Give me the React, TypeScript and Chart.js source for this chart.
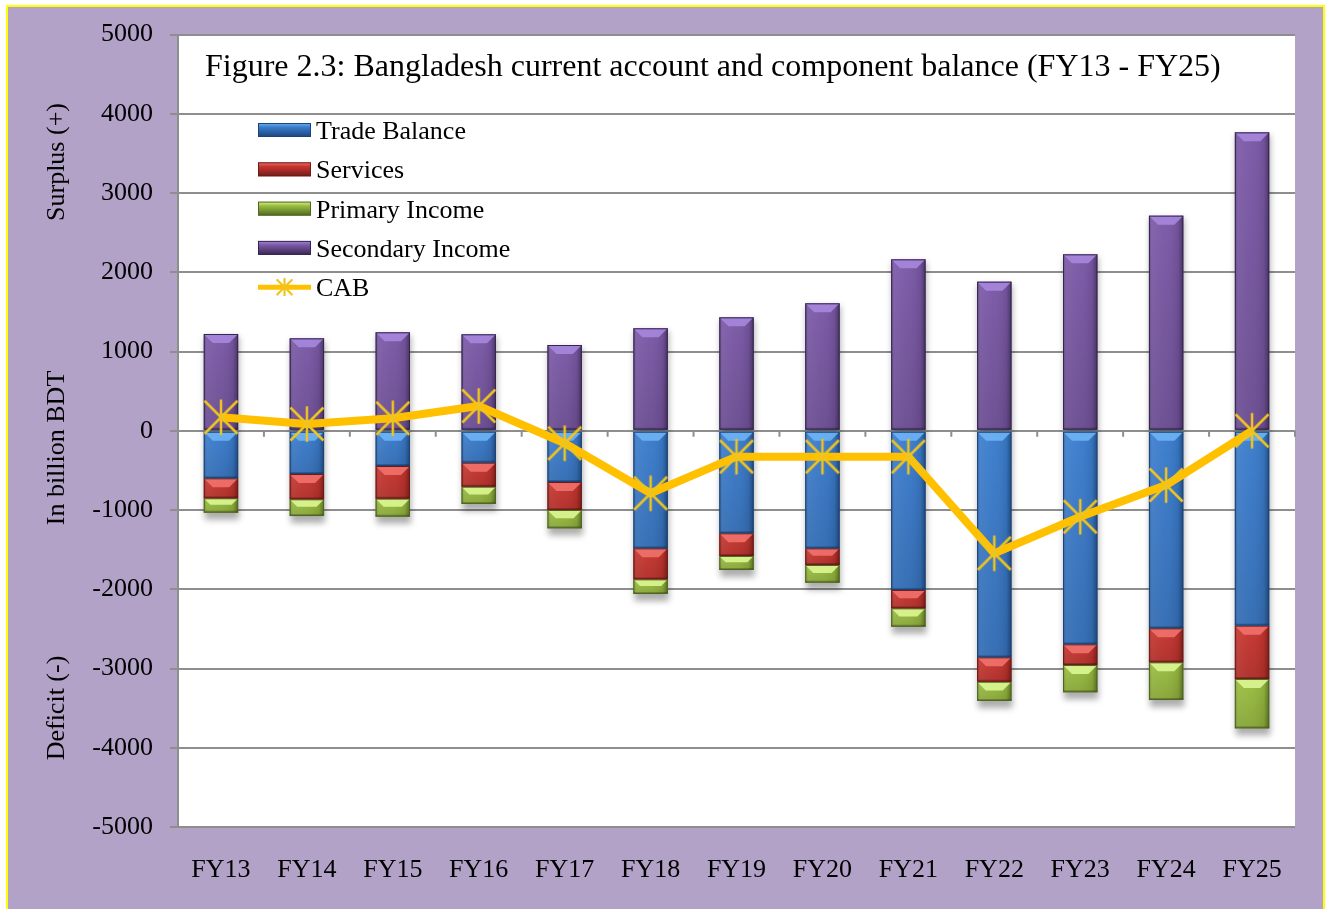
import React, { useEffect, useRef } from "react";
import { Chart, registerables } from "chart.js";

Chart.register(...registerables);

// ---------- data ----------
const categories = ["FY13", "FY14", "FY15", "FY16", "FY17", "FY18", "FY19", "FY20", "FY21", "FY22", "FY23", "FY24", "FY25"];
const tradeBalance = [-600, -546, -445, -403, -647, -1484, -1294, -1484, -2009, -2859, -2695, -2493, -2459];
const servicesBalance = [-252, -319, -412, -303, -353, -391, -286, -210, -232, -308, -261, -429, -673];
const primaryIncome = [-182, -211, -227, -218, -231, -185, -177, -223, -232, -243, -344, -475, -623];
const secondaryIncome = [1221, 1166, 1242, 1217, 1082, 1293, 1431, 1608, 2163, 1881, 2226, 2714, 3765];
const cabValues = [170, 85, 157, 312, -158, -789, -327, -327, -327, -1547, -1085, -685, 0];

const seriesNames = ["Trade Balance", "Services", "Primary Income", "Secondary Income", "CAB"];
const titleText = "Figure 2.3: Bangladesh current account and component balance (FY13 - FY25)";
const axisTitles = ["Surplus (+)", "In billion BDT", "Deficit (-)"];

const Y_MIN = -5000;
const Y_MAX = 5000;
const Y_STEP = 1000;

// ---------- style ----------
const FONT = '"Liberation Serif", "Times New Roman", Times, serif';
const OUTER_BG = "#B2A2C7";
const GRID = "#8E8E8E";
const LINE_COLOR = "#FFC000";
const STAR_COLOR = "#F0C420";

type Pal = { base: string; light: string; dark: string };
const palettes: Pal[] = [
  { base: "#3A7CCD", light: "#6DB3F4", dark: "#1C4479" },
  { base: "#C8352F", light: "#F2716C", dark: "#6E1B18" },
  { base: "#9ABD40", light: "#DAF792", dark: "#4E6622" },
  { base: "#7A58A6", light: "#A687DD", dark: "#36264F" },
];

function makeStar(size: number, lw: number): HTMLCanvasElement {
  const c = document.createElement("canvas");
  c.width = size;
  c.height = size;
  const g = c.getContext("2d")!;
  const m = lw;
  g.strokeStyle = STAR_COLOR;
  g.lineWidth = lw;
  g.lineCap = "butt";
  g.beginPath();
  g.moveTo(size / 2, m / 2);
  g.lineTo(size / 2, size - m / 2);
  g.moveTo(m, m);
  g.lineTo(size - m, size - m);
  g.moveTo(size - m, m);
  g.lineTo(m, size - m);
  g.stroke();
  return c;
}

function barRect(el: any) {
  const p = el.getProps(["x", "y", "base", "width"], true);
  const left = p.x - p.width / 2;
  const top = Math.min(p.y, p.base);
  const bottom = Math.max(p.y, p.base);
  return { left, right: left + p.width, top, bottom, width: p.width, x: p.x };
}

const backgroundPlugin = {
  id: "bgPlugin",
  beforeDraw(chart: any) {
    const { ctx, chartArea: a } = chart;
    ctx.save();
    ctx.fillStyle = OUTER_BG;
    ctx.fillRect(0, 0, chart.width, chart.height);
    ctx.fillStyle = "#FFFFFF";
    ctx.fillRect(a.left, a.top, a.right - a.left, a.bottom - a.top);
    ctx.restore();
  },
};

const zeroTicksPlugin = {
  id: "zeroTicks",
  beforeDatasetsDraw(chart: any) {
    const { ctx, chartArea: a } = chart;
    const xs = chart.scales.x;
    const ys = chart.scales.y;
    const y0 = ys.getPixelForValue(0);
    const n = categories.length;
    ctx.save();
    ctx.strokeStyle = GRID;
    ctx.lineWidth = 2;
    ctx.beginPath();
    for (let i = 0; i <= n; i++) {
      let px;
      if (i === 0) px = a.left;
      else if (i === n) px = a.right;
      else px = (xs.getPixelForValue(i - 1) + xs.getPixelForValue(i)) / 2;
      ctx.moveTo(px, y0);
      ctx.lineTo(px, y0 + 6);
    }
    ctx.stroke();
    ctx.restore();
  },
};

const shadowPlugin = {
  id: "barShadow",
  beforeDatasetsDraw(chart: any) {
    const metas = chart.getSortedVisibleDatasetMetas().filter((m: any) => m.type === "bar");
    const ctx = chart.ctx;
    const n = categories.length;
    ctx.save();
    ctx.filter = "blur(3px)";
    ctx.fillStyle = "rgba(0,0,0,0.32)";
    for (let i = 0; i < n; i++) {
      let t = Infinity;
      let b = -Infinity;
      let l = 0;
      let w = 0;
      metas.forEach((m: any) => {
        const r = barRect(m.data[i]);
        t = Math.min(t, r.top);
        b = Math.max(b, r.bottom);
        l = r.left;
        w = r.width;
      });
      ctx.fillRect(l + 1, t + 3, w, b - t + 4);
    }
    ctx.restore();
  },
};

const bevelPlugin = {
  id: "bevel",
  afterDatasetDraw(chart: any, args: any) {
    const meta = args.meta;
    if (meta.type !== "bar") return;
    const pal: Pal = palettes[args.index];
    const ctx = chart.ctx;
    meta.data.forEach((el: any) => {
      const r = barRect(el);
      const h = r.bottom - r.top;
      if (h < 1) return;
      ctx.save();
      const g = ctx.createLinearGradient(r.left, 0, r.right, 0);
      g.addColorStop(0, "rgba(0,0,0,0.22)");
      g.addColorStop(0.1, "rgba(255,255,255,0.08)");
      g.addColorStop(0.45, "rgba(255,255,255,0.03)");
      g.addColorStop(0.85, "rgba(0,0,0,0.08)");
      g.addColorStop(1, "rgba(0,0,0,0.38)");
      ctx.fillStyle = g;
      ctx.fillRect(r.left, r.top, r.width, h);
      const gv = ctx.createLinearGradient(0, r.top, 0, r.bottom);
      gv.addColorStop(0, "rgba(0,0,0,0)");
      gv.addColorStop(1, "rgba(0,0,0,0.12)");
      ctx.fillStyle = gv;
      ctx.fillRect(r.left, r.top, r.width, h);
      const bv = Math.min(9, h * 0.45, r.width * 0.3);
      ctx.beginPath();
      ctx.moveTo(r.left, r.top);
      ctx.lineTo(r.right, r.top);
      ctx.lineTo(r.right - bv, r.top + bv);
      ctx.lineTo(r.left + bv, r.top + bv);
      ctx.closePath();
      ctx.globalAlpha = 0.9;
      ctx.fillStyle = pal.light;
      ctx.fill();
      ctx.globalAlpha = 1;
      ctx.fillStyle = "rgba(0,0,0,0.22)";
      ctx.fillRect(r.left, r.bottom - 2, r.width, 2);
      ctx.strokeStyle = pal.dark;
      ctx.lineWidth = 1;
      ctx.strokeRect(r.left + 0.5, r.top + 0.5, r.width - 1, h - 1);
      ctx.restore();
    });
  },
};

const annotationPlugin = {
  id: "annotations",
  afterDraw(chart: any) {
    const { ctx, chartArea: a } = chart;
    ctx.save();
    // title
    ctx.fillStyle = "#000";
    ctx.font = `32px ${FONT}`;
    ctx.textAlign = "left";
    ctx.textBaseline = "alphabetic";
    ctx.fillText(titleText, a.left + 27, a.top + 41.5);

    // axis side titles
    ctx.font = `26px ${FONT}`;
    ctx.textAlign = "center";
    ctx.textBaseline = "middle";
    const titleY = [155, 441, 701];
    axisTitles.forEach((t, i) => {
      ctx.save();
      ctx.translate(49, titleY[i]);
      ctx.rotate(-Math.PI / 2);
      ctx.fillText(t, 0, 0);
      ctx.restore();
    });

    // legend
    const lx = a.left + 80;
    const sw = 53;
    const tx = a.left + 138;
    ctx.textAlign = "left";
    ctx.textBaseline = "alphabetic";
    for (let i = 0; i < 5; i++) {
      const cy = a.top + 95.5 + i * 39.3;
      if (i < 4) {
        const pal = palettes[i];
        const top = cy - 7;
        const g = ctx.createLinearGradient(0, top, 0, top + 14);
        g.addColorStop(0, pal.light);
        g.addColorStop(0.3, pal.base);
        g.addColorStop(1, pal.dark);
        ctx.fillStyle = g;
        ctx.fillRect(lx, top, sw, 14);
        ctx.strokeStyle = pal.dark;
        ctx.lineWidth = 1;
        ctx.strokeRect(lx + 0.5, top + 0.5, sw - 1, 13);
      } else {
        ctx.strokeStyle = LINE_COLOR;
        ctx.lineWidth = 5;
        ctx.beginPath();
        ctx.moveTo(lx, cy);
        ctx.lineTo(lx + sw, cy);
        ctx.stroke();
        ctx.drawImage(legendStar, lx + sw / 2 - 10, cy - 10, 20, 20);
      }
      ctx.fillStyle = "#000";
      ctx.fillText(seriesNames[i], tx, cy + 9);
    }
    ctx.restore();
  },
};

let legendStar: HTMLCanvasElement;

export default function App() {
  const ref = useRef<HTMLCanvasElement | null>(null);

  useEffect(() => {
    if (!ref.current) return;
    const star = makeStar(38, 2.5);
    legendStar = makeStar(38, 4);
    const barData = [tradeBalance, servicesBalance, primaryIncome, secondaryIncome];
    const datasets: any[] = barData.map((d, i) => ({
      type: "bar",
      label: seriesNames[i],
      data: d,
      backgroundColor: palettes[i].base,
      borderWidth: 0,
      categoryPercentage: 1,
      barPercentage: 0.4,
      stack: "components",
      order: 1,
    }));
    datasets.push({
      type: "line",
      label: seriesNames[4],
      data: cabValues,
      borderColor: LINE_COLOR,
      borderWidth: 8,
      pointStyle: star,
      pointRadius: 19,
      tension: 0,
      stack: "cab",
      order: 0,
      borderJoinStyle: "round",
    });

    const chart = new Chart(ref.current, {
      type: "bar",
      data: { labels: categories, datasets },
      options: {
        responsive: false,
        animation: false,
        devicePixelRatio: 1,
        layout: { padding: { left: 0, right: 28, top: 27.5, bottom: 0 } },
        plugins: {
          legend: { display: false },
          tooltip: { enabled: false },
          title: { display: false },
        },
        scales: {
          x: {
            stacked: true,
            grid: { display: false, drawTicks: false },
            border: { display: false },
            ticks: {
              font: { family: FONT, size: 26 },
              color: "#000",
              padding: 28,
              maxRotation: 0,
              autoSkip: false,
            },
            afterFit: (s: any) => {
              s.height = 82;
              s.paddingLeft = 0;
              s.paddingRight = 0;
            },
          },
          y: {
            stacked: true,
            min: Y_MIN,
            max: Y_MAX,
            ticks: {
              stepSize: Y_STEP,
              font: { family: FONT, size: 26 },
              color: "#000",
              padding: 17,
              callback: (v: any) => String(v),
            },
            grid: { color: GRID, lineWidth: 2, tickLength: 8, tickColor: GRID, drawTicks: true },
            border: { display: true, color: GRID, width: 2 },
            afterFit: (s: any) => {
              s.width = 170;
              s.paddingTop = 0;
              s.paddingBottom = 0;
            },
          },
        },
      } as any,
      plugins: [backgroundPlugin, zeroTicksPlugin, shadowPlugin, bevelPlugin, annotationPlugin],
    });
    return () => chart.destroy();
  }, []);

  return (
    <div
      style={{
        position: "absolute",
        left: 6,
        top: 5,
        width: 1315,
        height: 906,
        border: "2px solid #FFFF00",
        background: OUTER_BG,
      }}
    >
      <canvas ref={ref} width={1315} height={902} style={{ display: "block" }} />
    </div>
  );
}
